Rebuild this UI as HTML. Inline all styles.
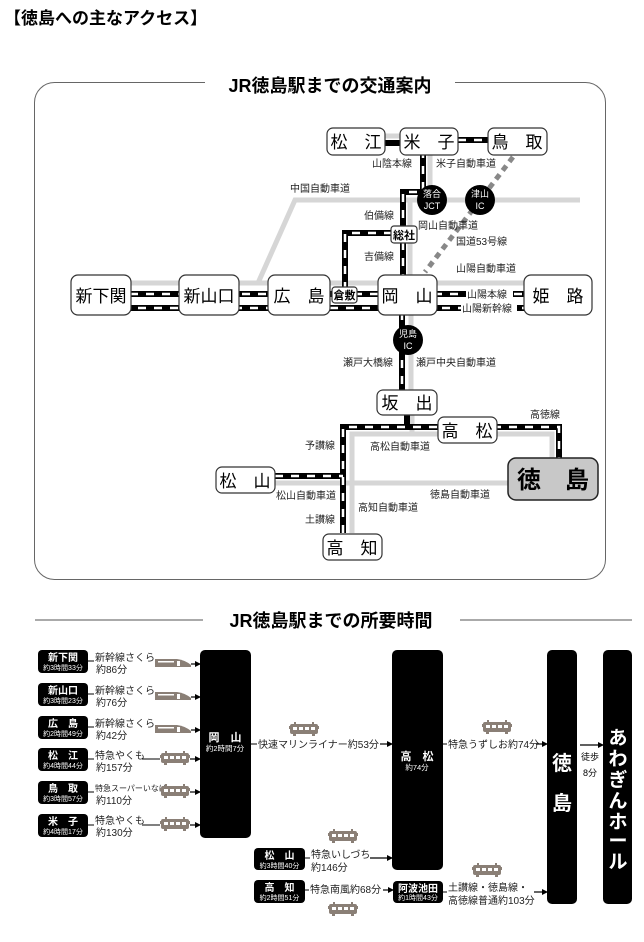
<!DOCTYPE html>
<html><head><meta charset="utf-8">
<style>
html,body{margin:0;padding:0;background:#fff;}
svg{display:block;font-family:"Liberation Sans","Noto Sans CJK JP",sans-serif;}
</style></head>
<body>
<svg width="644" height="942" viewBox="0 0 644 942" xmlns="http://www.w3.org/2000/svg">
<defs>
<g id="tr">
  <rect x="1" y="2" width="28" height="10" rx="2" fill="#8a7f76"/>
  <rect x="0" y="4" width="30" height="3" fill="#8a7f76"/>
  <rect x="4" y="5" width="4" height="3" fill="#fff"/><rect x="10" y="5" width="4" height="3" fill="#fff"/><rect x="16" y="5" width="4" height="3" fill="#fff"/><rect x="22" y="5" width="4" height="3" fill="#fff"/>
  <rect x="5" y="0" width="2" height="3" fill="#8a7f76"/><rect x="23" y="0" width="2" height="3" fill="#8a7f76"/>
  <rect x="4" y="12" width="3" height="2" fill="#8a7f76"/><rect x="23" y="12" width="3" height="2" fill="#8a7f76"/>
</g>
<g id="sk">
  <path d="M0 4 L22 4 Q30 5 36 10 L36 12 L0 12 Z" fill="#8a7f76"/>
  <rect x="22" y="6" width="3" height="5" fill="#fff"/>
  <rect x="3" y="6" width="16" height="1.5" fill="#fff"/>
</g>
<marker id="ah" markerWidth="6" markerHeight="6" refX="5" refY="3" orient="auto" markerUnits="userSpaceOnUse"><path d="M0 0 L6 3 L0 6 Z" fill="#000"/></marker>
</defs>

<text x="4" y="24" font-size="17" font-weight="bold">【徳島への主なアクセス】</text>

<!-- frame -->
<rect x="34.5" y="82.5" width="571" height="497" rx="20" fill="none" stroke="#666" stroke-width="1"/>
<rect x="205" y="72" width="250" height="24" fill="#fff"/>
<text x="330" y="92" font-size="18" font-weight="bold" text-anchor="middle">JR徳島駅までの交通案内</text>

<!-- highways gray -->
<g fill="none" stroke="#d6d6d6" stroke-width="5">
  <polyline points="258,283 295,200 580,200"/>
  <line x1="100" y1="283" x2="560" y2="283"/>
  <line x1="430" y1="150" x2="430" y2="200"/>
  <line x1="410" y1="200" x2="410" y2="278"/>
  <line x1="411" y1="312" x2="411" y2="395"/>
  <line x1="412" y1="410" x2="412" y2="434"/>
  <polyline points="352,533 352,434 552,434 552,460"/>
  <line x1="275" y1="483" x2="510" y2="483"/>
  <line x1="385" y1="136" x2="400" y2="136"/>
</g>
<line x1="513" y1="157" x2="425" y2="272" stroke="#888" stroke-width="5" stroke-dasharray="6 5"/>

<!-- rails -->
<g fill="none">
  <g stroke="#000" stroke-width="6">
    <polyline points="423,150 423,192 403,192 403,278"/>
    <polyline points="392,233 345,233 345,288"/>
    <line x1="130" y1="294" x2="530" y2="294"/>
    <line x1="130" y1="308" x2="530" y2="308"/>
    <line x1="402" y1="312" x2="402" y2="392"/>
    <line x1="407" y1="412" x2="407" y2="428"/>
    <polyline points="343,533 343,427 559,427 559,460"/>
    <line x1="275" y1="476" x2="343" y2="476"/>
    <line x1="385" y1="143" x2="400" y2="143"/>
    <line x1="458" y1="140" x2="488" y2="140"/>
  </g>
  <g stroke="#fff" stroke-width="2.5" stroke-dasharray="8 8">
    <polyline points="423,150 423,192 403,192 403,278"/>
    <polyline points="392,233 345,233 345,288"/>
    <line x1="130" y1="294" x2="530" y2="294"/>
    <line x1="130" y1="308" x2="530" y2="308" stroke-dashoffset="8"/>
    <line x1="402" y1="312" x2="402" y2="392"/>
    <polyline points="343,533 343,427 559,427 559,460"/>
    <line x1="275" y1="476" x2="343" y2="476"/>
    <line x1="458" y1="140" x2="488" y2="140"/>
  </g>
</g>
<!-- label backgrounds on rails -->
<rect x="466" y="288" width="47" height="12" fill="#fff"/>
<rect x="461" y="302" width="56" height="12" fill="#fff"/>

<!-- IC circles -->
<g fill="#000"><circle cx="432" cy="200" r="15"/><circle cx="480" cy="200" r="15"/><circle cx="408" cy="340" r="15"/></g>
<g fill="#fff" font-size="9" text-anchor="middle">
  <text x="432" y="197">落合</text><text x="432" y="209">JCT</text>
  <text x="480" y="197">津山</text><text x="480" y="209">IC</text>
  <text x="408" y="337">児島</text><text x="408" y="349">IC</text>
</g>

<!-- station boxes -->
<g fill="#fff" stroke="#333" stroke-width="1.2">
  <rect x="327" y="128" width="58" height="27" rx="6"/>
  <rect x="400" y="128" width="58" height="27" rx="6"/>
  <rect x="488" y="128" width="59" height="27" rx="6"/>
  <rect x="71" y="275" width="60" height="40" rx="7"/>
  <rect x="179" y="275" width="60" height="40" rx="7"/>
  <rect x="268" y="275" width="62" height="40" rx="7"/>
  <rect x="378" y="275" width="59" height="40" rx="7"/>
  <rect x="524" y="275" width="68" height="40" rx="7"/>
  <rect x="391" y="226" width="26" height="17" rx="3"/>
  <rect x="332" y="287" width="25" height="16" rx="3"/>
  <rect x="377" y="390" width="60" height="25" rx="6"/>
  <rect x="438" y="417" width="59" height="26" rx="6"/>
  <rect x="216" y="467" width="59" height="26" rx="6"/>
  <rect x="323" y="534" width="59" height="26" rx="6"/>
</g>
<rect x="508" y="458" width="90" height="42" rx="8" fill="#c8c8c8" stroke="#222" stroke-width="1.5"/>
<g font-size="17" text-anchor="middle" fill="#000">
  <text x="356" y="148">松　江</text><text x="429" y="148">米　子</text><text x="517" y="148">鳥　取</text>
  <text x="101" y="302">新下関</text><text x="209" y="302">新山口</text><text x="299" y="302">広　島</text>
  <text x="407" y="302">岡　山</text><text x="558" y="302">姫　路</text>
  <text x="407" y="409">坂　出</text><text x="467" y="437">高　松</text>
  <text x="245" y="487">松　山</text><text x="352" y="554">高　知</text>
</g>
<text x="553" y="488" font-size="24" font-weight="bold" text-anchor="middle">徳　島</text>
<g font-size="11" font-weight="bold" text-anchor="middle"><text x="404" y="239">総社</text><text x="344.5" y="299">倉敷</text></g>

<!-- labels -->
<g font-size="10" fill="#222">
  <text x="372" y="167">山陰本線</text><text x="436" y="167">米子自動車道</text>
  <text x="290" y="192">中国自動車道</text>
  <text x="364" y="219">伯備線</text><text x="418" y="229">岡山自動車道</text>
  <text x="456" y="245">国道53号線</text>
  <text x="364" y="260">吉備線</text>
  <text x="456" y="272">山陽自動車道</text>
  <text x="467" y="298">山陽本線</text><text x="462" y="312">山陽新幹線</text>
  <text x="343" y="366">瀬戸大橋線</text><text x="416" y="366">瀬戸中央自動車道</text>
  <text x="530" y="418">高徳線</text>
  <text x="305" y="449">予讃線</text><text x="370" y="450">高松自動車道</text>
  <text x="276" y="499">松山自動車道</text><text x="430" y="498">徳島自動車道</text>
  <text x="358" y="511">高知自動車道</text>
  <text x="305" y="523">土讃線</text>
</g>

<!-- second section heading -->
<line x1="35" y1="620" x2="203" y2="620" stroke="#777" stroke-width="1.2"/>
<line x1="460" y1="620" x2="632" y2="620" stroke="#777" stroke-width="1.2"/>
<text x="331" y="627" font-size="18" font-weight="bold" text-anchor="middle">JR徳島駅までの所要時間</text>

<!-- big boxes -->
<rect x="200" y="650" width="51" height="188" rx="5" fill="#000"/>
<rect x="392" y="650" width="51" height="220" rx="5" fill="#000"/>
<rect x="547" y="650" width="30" height="254" rx="5" fill="#000"/>
<rect x="603" y="650" width="29" height="254" rx="5" fill="#000"/>
<g fill="#fff" text-anchor="middle" font-weight="bold">
  <text x="225" y="741" font-size="11">岡　山</text>
  <text x="417" y="760" font-size="11">高　松</text>
  <text x="562" y="770" font-size="20">徳</text>
  <text x="562" y="810" font-size="20">島</text>
  <text x="618" y="744" font-size="19">あ</text>
  <text x="618" y="765" font-size="19">わ</text>
  <text x="618" y="786" font-size="19">ぎ</text>
  <text x="618" y="807" font-size="19">ん</text>
  <text x="618" y="828" font-size="19">ホ</text>
  <text x="618" y="847" font-size="19">ー</text>
  <text x="618" y="868" font-size="19">ル</text>
</g>
<g fill="#fff" text-anchor="middle" font-size="7.5">
  <text x="225" y="751">約2時間7分</text>
  <text x="417" y="770">約74分</text>
</g>

<!-- origin badges -->
<g fill="#000">
  <rect x="38" y="650" width="50" height="23" rx="4"/>
  <rect x="38" y="683" width="50" height="23" rx="4"/>
  <rect x="38" y="716" width="50" height="23" rx="4"/>
  <rect x="38" y="748" width="50" height="23" rx="4"/>
  <rect x="38" y="781" width="50" height="23" rx="4"/>
  <rect x="38" y="814" width="50" height="23" rx="4"/>
  <rect x="254" y="848" width="51" height="22" rx="4"/>
  <rect x="254" y="880" width="51" height="23" rx="4"/>
  <rect x="393" y="881" width="50" height="22" rx="4"/>
</g>
<g fill="#fff" text-anchor="middle" font-weight="bold" font-size="10">
  <text x="63" y="661">新下関</text><text x="63" y="694">新山口</text><text x="63" y="727">広　島</text>
  <text x="63" y="759">松　江</text><text x="63" y="792">鳥　取</text><text x="63" y="825">米　子</text>
  <text x="279.5" y="859">松　山</text><text x="279.5" y="891">高　知</text><text x="418" y="892">阿波池田</text>
</g>
<g fill="#fff" text-anchor="middle" font-size="7">
  <text x="63" y="670">約3時間33分</text><text x="63" y="703">約3時間23分</text><text x="63" y="736">約2時間49分</text>
  <text x="63" y="768">約4時間44分</text><text x="63" y="801">約3時間57分</text><text x="63" y="834">約4時間17分</text>
  <text x="279.5" y="868">約3時間40分</text><text x="279.5" y="900">約2時間51分</text><text x="418" y="900">約1時間43分</text>
</g>

<!-- route text -->
<g font-size="10" fill="#222">
  <text x="95" y="661">新幹線さくら</text><text x="96" y="673">約86分</text>
  <text x="95" y="694">新幹線さくら</text><text x="96" y="706">約76分</text>
  <text x="95" y="727">新幹線さくら</text><text x="96" y="739">約42分</text>
  <text x="95" y="759">特急やくも</text><text x="96" y="771">約157分</text>
  <text x="95" y="791" font-size="8">特急スーパーいなば</text><text x="96" y="804">約110分</text>
  <text x="95" y="824">特急やくも</text><text x="96" y="836">約130分</text>
  <text x="258" y="748">快速マリンライナー約53分</text>
  <text x="448" y="748">特急うずしお約74分</text>
  <text x="311" y="858">特急いしづち</text><text x="311" y="871">約146分</text>
  <text x="310" y="893">特急南風約68分</text>
  <text x="448" y="891">土讃線・徳島線・</text><text x="448" y="904">高徳線普通約103分</text>
</g>
<g font-size="9" fill="#000" text-anchor="middle"><text x="590" y="760">徒歩</text><text x="590" y="776">8分</text></g>

<!-- icons -->
<use href="#sk" x="155" y="655"/><use href="#sk" x="155" y="688"/><use href="#sk" x="155" y="721"/>
<use href="#tr" x="160" y="751"/><use href="#tr" x="160" y="784"/><use href="#tr" x="160" y="817"/>
<use href="#tr" x="289" y="722"/><use href="#tr" x="482" y="720"/>
<use href="#tr" x="328" y="829"/><use href="#tr" x="328" y="902"/><use href="#tr" x="472" y="863"/>

<!-- arrows -->
<g stroke="#000" stroke-width="1.2" fill="none" marker-end="url(#ah)">
  <line x1="191" y1="664" x2="200" y2="664"/>
  <line x1="191" y1="697" x2="200" y2="697"/>
  <line x1="191" y1="730" x2="200" y2="730"/>
  <line x1="190" y1="759" x2="200" y2="759"/>
  <line x1="190" y1="792" x2="200" y2="792"/>
  <line x1="190" y1="825" x2="200" y2="825"/>
  <line x1="380" y1="744" x2="392" y2="744"/>
  <line x1="536" y1="744" x2="547" y2="744"/>
  <line x1="580" y1="745" x2="603" y2="745"/>
  <line x1="370" y1="858" x2="392" y2="858"/>
  <line x1="383" y1="890" x2="393" y2="890"/>
  <line x1="534" y1="892" x2="547" y2="892"/>
</g>
<g stroke="#000" stroke-width="1">
  <line x1="88" y1="661" x2="94" y2="661"/><line x1="88" y1="694" x2="94" y2="694"/><line x1="88" y1="727" x2="94" y2="727"/>
  <line x1="88" y1="759" x2="94" y2="759"/><line x1="88" y1="792" x2="94" y2="792"/><line x1="88" y1="825" x2="94" y2="825"/>
  <line x1="142" y1="759" x2="160" y2="759"/><line x1="142" y1="825" x2="160" y2="825"/>
  <line x1="251" y1="744" x2="257" y2="744"/><line x1="443" y1="744" x2="447" y2="744"/>
  <line x1="305" y1="858" x2="310" y2="858"/><line x1="305" y1="890" x2="309" y2="890"/>
  <line x1="443" y1="892" x2="447" y2="892"/>
</g>
</svg>
</body></html>
